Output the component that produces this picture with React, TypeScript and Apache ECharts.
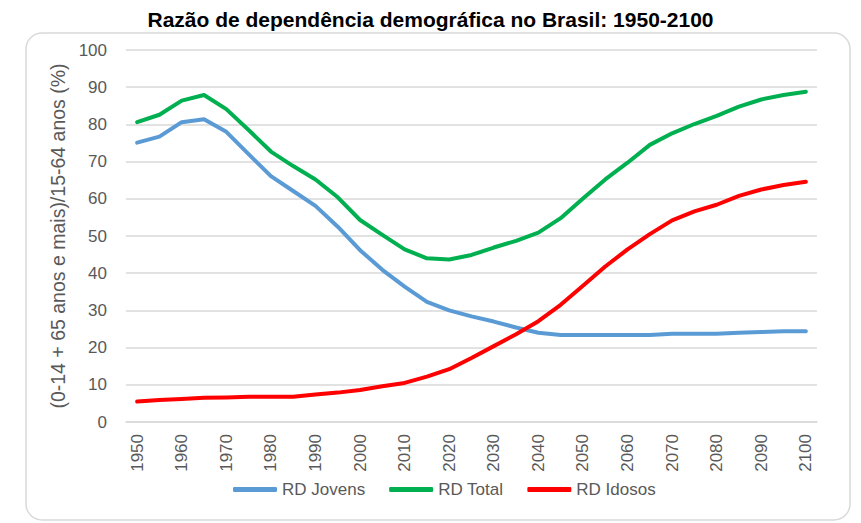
import React, { useEffect, useRef } from "react";
import * as echarts from "echarts";

const years: string[] = [
  "1950","1955","1960","1965","1970","1975","1980","1985","1990","1995",
  "2000","2005","2010","2015","2020","2025","2030","2035","2040","2045",
  "2050","2055","2060","2065","2070","2075","2080","2085","2090","2095","2100",
];

const rdJovens: number[] = [
  75.1, 76.7, 80.6, 81.4, 78.0, 72.0, 66.1, 62.1, 58.1, 52.5,
  46.2, 40.9, 36.4, 32.3, 30.0, 28.4, 27.0, 25.4, 24.0, 23.4,
  23.4, 23.4, 23.4, 23.4, 23.7, 23.7, 23.7, 24.0, 24.2, 24.4, 24.4,
];

const rdTotal: number[] = [
  80.6, 82.6, 86.4, 87.9, 84.1, 78.5, 72.7, 68.8, 65.2, 60.4,
  54.3, 50.3, 46.4, 44.0, 43.7, 44.9, 46.9, 48.7, 50.9, 54.8,
  60.1, 65.2, 69.7, 74.5, 77.6, 80.1, 82.3, 84.8, 86.7, 87.9, 88.8,
];

const rdIdosos: number[] = [
  5.5, 5.9, 6.2, 6.5, 6.6, 6.8, 6.8, 6.8, 7.4, 7.9,
  8.6, 9.6, 10.5, 12.2, 14.2, 17.2, 20.4, 23.6, 27.1, 31.5,
  36.6, 41.8, 46.4, 50.5, 54.2, 56.6, 58.4, 60.8, 62.5, 63.7, 64.6,
];

const seriesNames = ["RD Jovens", "RD Total", "RD Idosos"];
const seriesColors = ["#5b9bd5", "#00b050", "#ff0000"];
const titleText = "Razão de dependência demográfica no Brasil: 1950-2100";
const yAxisName = "(0-14 + 65 anos e mais)/15-64 anos (%)";

export default function App() {
  const ref = useRef<HTMLDivElement>(null);

  useEffect(() => {
    document.body.style.margin = "0";
    if (!ref.current) return;
    const chart = echarts.init(ref.current, undefined, { renderer: "svg" });
    const font = "'Liberation Sans', Arial, sans-serif";
    const dataSets = [rdJovens, rdTotal, rdIdosos];
    chart.setOption({
      animation: false,
      backgroundColor: "#ffffff",
      textStyle: { fontFamily: font },
      title: {
        text: titleText,
        left: "center",
        top: 4,
        textStyle: { fontSize: 21, fontWeight: "bold", color: "#000000", fontFamily: font },
      },
      graphic: [
        {
          type: "rect",
          shape: { x: 26, y: 33, width: 824, height: 487, r: 16 },
          style: { fill: "none", stroke: "#d9d9d9", lineWidth: 1.5 },
          silent: true,
          z: -1,
        },
      ],
      legend: {
        data: seriesNames,
        bottom: 20,
        left: 228,
        icon: "roundRect",
        itemWidth: 44,
        itemHeight: 5,
        itemGap: 24,
        textStyle: { fontSize: 17, color: "#595959", fontFamily: font },
      },
      grid: { left: 126, right: 44, top: 50, bottom: 101, containLabel: false },
      xAxis: {
        type: "category",
        data: years,
        boundaryGap: true,
        axisLine: { lineStyle: { color: "#d9d9d9", width: 1.5 } },
        axisTick: { show: false },
        axisLabel: {
          interval: 1,
          rotate: 90,
          margin: 12,
          fontSize: 17,
          color: "#595959",
          fontFamily: font,
        },
      },
      yAxis: {
        type: "value",
        min: 0,
        max: 100,
        interval: 10,
        name: yAxisName,
        nameLocation: "middle",
        nameGap: 49,
        nameTextStyle: { fontSize: 19.5, color: "#595959", fontFamily: font },
        axisLine: { show: false },
        axisTick: { show: false },
        axisLabel: { fontSize: 17, color: "#595959", margin: 19, fontFamily: font },
        splitLine: { lineStyle: { color: "#d9d9d9", width: 1.5 } },
      },
      series: seriesNames.map((name, i) => ({
        name,
        type: "line",
        data: dataSets[i],
        symbol: "none",
        smooth: false,
        lineStyle: { width: 4, color: seriesColors[i], cap: "round", join: "round" },
        itemStyle: { color: seriesColors[i] },
      })),
    });
    return () => chart.dispose();
  }, []);

  return (
    <div
      ref={ref}
      style={{ position: "absolute", left: 0, top: 0, width: 861, height: 523 }}
    />
  );
}
